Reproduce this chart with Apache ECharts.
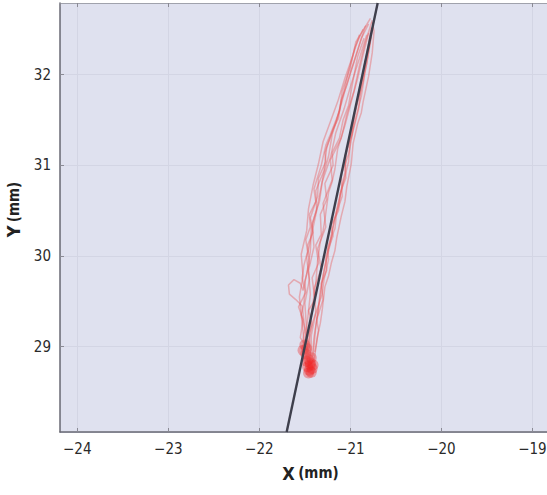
<!DOCTYPE html>
<html>
<head>
<meta charset="utf-8">
<script src="https://cdn.jsdelivr.net/npm/echarts@6/dist/echarts.min.js"></script>
<style>
html,body{margin:0;padding:0;background:#fff;}
#chart{width:547px;height:495px;}
</style>
</head>
<body>
<div id="chart"></div>
<script>
// ---- data (mm) ----
const xRange = [-24.19, -18.84];
const yRange = [28.06, 32.79];
const xTicks = [-24, -23, -22, -21, -20, -19];
const yTicks = [29, 30, 31, 32];
const fitLine = [[-21.70, 28.06], [-20.70, 32.79]];

const traj1 = [[-21.46,28.86],[-21.52,29.08],[-21.50,29.20],[-21.54,29.35],[-21.51,29.48],[-21.50,29.62],[-21.53,29.76],[-21.51,29.9],[-21.47,30.05],[-21.49,30.18],[-21.44,30.32],[-21.45,30.46],[-21.38,30.6],[-21.40,30.74],[-21.32,31.0],[-21.27,31.22],[-21.22,31.34],[-21.17,31.47],[-21.12,31.6],[-21.10,31.72],[-21.04,31.88],[-21.00,32.02],[-20.92,32.27],[-20.84,32.52],[-20.78,32.62]];
const traj2 = [[-21.40,28.84],[-21.36,29.12],[-21.33,29.26],[-21.31,29.40],[-21.28,29.66],[-21.24,29.78],[-21.21,29.92],[-21.17,30.06],[-21.15,30.20],[-21.10,30.44],[-21.06,30.60],[-21.04,30.76],[-20.99,31.02],[-20.97,31.24],[-20.92,31.46],[-20.88,31.58],[-20.86,31.70],[-20.80,31.98],[-20.76,32.24],[-20.74,32.48],[-20.76,32.58]];
const traj3 = [[-21.44,28.90],[-21.45,29.15],[-21.42,29.42],[-21.40,29.56],[-21.38,29.70],[-21.36,29.95],[-21.33,30.16],[-21.30,30.28],[-21.28,30.40],[-21.24,30.70],[-21.20,30.82],[-21.17,30.96],[-21.14,31.18],[-21.06,31.44],[-20.98,31.74],[-20.92,31.96],[-20.86,32.22],[-20.80,32.46]];
const traj4 = [[-21.48,28.82],[-21.50,29.05],[-21.47,29.30],[-21.44,29.58],[-21.46,29.84],[-21.40,30.10],[-21.42,30.36],[-21.34,30.60],[-21.30,30.88],[-21.24,31.10],[-21.20,31.34],[-21.12,31.60],[-21.05,31.86],[-20.96,32.14],[-20.88,32.40],[-20.80,32.56]];
const traj5 = [[-21.45,28.88],[-21.50,29.20],[-21.53,29.45],[-21.60,29.52],[-21.67,29.58],[-21.68,29.68],[-21.62,29.74],[-21.55,29.70],[-21.52,29.62],[-21.48,29.80],[-21.44,30.05],[-21.43,30.30],[-21.36,30.56],[-21.31,30.82],[-21.22,31.08],[-21.16,31.36],[-21.07,31.62],[-20.99,31.90],[-20.90,32.18],[-20.82,32.44]];
const traj6 = [[-21.42,28.86],[-21.40,29.10],[-21.36,29.36],[-21.33,29.62],[-21.28,29.88],[-21.22,30.14],[-21.18,30.38],[-21.12,30.64],[-21.06,30.92],[-21.04,31.16],[-20.98,31.40],[-20.93,31.66],[-20.86,31.92],[-20.82,32.20],[-20.77,32.42]];
const traj7 = [[-21.47,28.92],[-21.48,29.18],[-21.50,29.48],[-21.45,29.74],[-21.48,29.98],[-21.43,30.22],[-21.37,30.50],[-21.38,30.72],[-21.29,30.94],[-21.26,31.20],[-21.15,31.50],[-21.08,31.78],[-21.02,32.04],[-20.95,32.30],[-20.86,32.50]];
const traj8 = [[-21.43,28.84],[-21.43,29.12],[-21.38,29.38],[-21.40,29.64],[-21.32,29.86],[-21.36,30.08],[-21.27,30.32],[-21.30,30.58],[-21.20,30.84],[-21.22,31.06],[-21.10,31.30],[-21.04,31.56],[-20.96,31.82],[-20.90,32.10],[-20.84,32.34],[-20.76,32.60]];
const traj9 = [[-21.41,28.90],[-21.38,29.22],[-21.34,29.50],[-21.30,29.78],[-21.25,30.04],[-21.20,30.28],[-21.14,30.54],[-21.08,30.80],[-21.02,31.04],[-21.00,31.28],[-20.94,31.52],[-20.88,31.76],[-20.84,32.02],[-20.79,32.30],[-20.75,32.54]];
const traj10 = [[-21.49,28.88],[-21.53,29.26],[-21.56,29.55],[-21.52,29.78],[-21.54,30.02],[-21.48,30.28],[-21.46,30.52],[-21.41,30.78],[-21.35,31.02],[-21.30,31.26],[-21.22,31.48],[-21.14,31.70],[-21.06,31.96],[-20.97,32.22],[-20.90,32.44]];
const traj11 = [[-21.46,28.95],[-21.55,29.10],[-21.52,29.30],[-21.57,29.44],[-21.49,29.60],[-21.50,29.72],[-21.45,29.92],[-21.47,30.12],[-21.41,30.26],[-21.44,30.42],[-21.36,30.66],[-21.35,30.86],[-21.27,31.04],[-21.28,31.14],[-21.19,31.40],[-21.13,31.52],[-21.09,31.82],[-21.00,32.08],[-20.94,32.36],[-20.83,32.54]];
const traj12 = [[-21.39,28.94],[-21.35,29.18],[-21.37,29.30],[-21.30,29.52],[-21.32,29.70],[-21.26,29.84],[-21.27,30.00],[-21.19,30.22],[-21.21,30.34],[-21.13,30.50],[-21.11,30.70],[-21.05,30.86],[-21.06,31.10],[-20.98,31.34],[-20.96,31.56],[-20.90,31.80],[-20.85,32.08],[-20.80,32.34],[-20.77,32.52]];
const traj13 = [[-21.47,29.00],[-21.42,29.24],[-21.46,29.40],[-21.39,29.52],[-21.42,29.76],[-21.35,29.92],[-21.38,30.12],[-21.32,30.24],[-21.33,30.46],[-21.26,30.62],[-21.28,30.80],[-21.19,31.00],[-21.20,31.14],[-21.12,31.30],[-21.08,31.50],[-21.02,31.66],[-20.97,31.94],[-20.92,32.20],[-20.85,32.40]];
const traj14 = [[-21.44,28.96],[-21.47,29.10],[-21.41,29.28],[-21.35,29.46],[-21.31,29.58],[-21.29,29.74],[-21.24,29.96],[-21.25,30.10],[-21.17,30.30],[-21.15,30.48],[-21.09,30.66],[-21.10,30.90],[-21.02,31.12],[-20.97,31.38],[-20.91,31.62],[-20.88,31.88],[-20.82,32.12],[-20.78,32.38]];
const blob = [[-21.47,28.78],[-21.44,28.82],[-21.42,28.76],[-21.46,28.86],[-21.49,28.92],[-21.45,28.74],[-21.43,28.88],[-21.48,28.98],[-21.50,29.02],[-21.44,28.80],[-21.46,28.71],[-21.41,28.80],[-21.48,28.84],[-21.52,28.96],[-21.43,28.72]];

const trajectories = [traj1, traj2, traj3, traj4, traj5, traj6, traj7, traj8, traj9, traj10, traj11, traj12, traj13, traj14];

// ---- chart ----
const FONT = "'Liberation Sans Narrow','DejaVu Sans Condensed',sans-serif";
const chart = echarts.init(document.getElementById('chart'), null, {renderer: 'svg'});

function intLabel(v) {
  if (Math.abs(v - Math.round(v)) > 1e-6) return '';
  return String(Math.round(v)).replace('-', '\u2212');
}

const series = [];
trajectories.forEach((t, i) => {
  series.push({
    type: 'line', name: 'traj' + (i + 1), data: t, xAxisIndex: 0, yAxisIndex: 0,
    showSymbol: false, silent: true,
    lineStyle: {color: 'rgba(232,85,85,0.4)', width: 1.5}
  });
});
series.push({
  type: 'scatter', name: 'blob', data: blob, symbolSize: 11,
  itemStyle: {color: 'rgba(240,35,35,0.45)'}, silent: true
});
series.push({
  type: 'line', name: 'fit', data: fitLine, showSymbol: false, silent: true,
  lineStyle: {color: '#3e3f4c', width: 2.4}
});

chart.setOption({
  animation: false,
  backgroundColor: '#ffffff',
  grid: {left: 60, right: 0, top: 3, bottom: 63, containLabel: false, outerBoundsMode: 'none',
         show: true, backgroundColor: '#dfe1ef', borderWidth: 0},
  xAxis: [{
    type: 'value', min: xRange[0], max: xRange[1], position: 'bottom',
    axisLine: {show: true, onZero: false, lineStyle: {color: '#6a6a74', width: 1.5}},
    axisTick: {show: true, inside: true, length: 4, lineStyle: {color: '#8a8a94'}},
    splitLine: {show: true, lineStyle: {color: '#d3d5e4', width: 1}},
    axisLabel: {formatter: intLabel, fontFamily: FONT, fontSize: 15, color: '#2a2a2a', margin: 9, showMinLabel: false, showMaxLabel: false},
    name: '{b|X} {n|(mm)}', nameLocation: 'middle', nameGap: 32,
    nameTextStyle: {rich: {b: {fontFamily: FONT, fontSize: 18, fontWeight: 'bold', color: '#222'}, n: {fontFamily: FONT, fontSize: 15, fontWeight: 'bold', color: '#222'}}, padding: [0, 0, 0, 14]}
  }, {
    type: 'value', min: xRange[0], max: xRange[1], position: 'top',
    axisLine: {show: true, onZero: false, lineStyle: {color: '#a0a2ac', width: 1}},
    axisTick: {show: true, inside: true, length: 4, lineStyle: {color: '#8a8a94'}},
    splitLine: {show: false}, axisLabel: {show: false}
  }],
  yAxis: [{
    type: 'value', min: yRange[0], max: yRange[1],
    axisLine: {show: true, onZero: false, lineStyle: {color: '#6a6a74', width: 1.5}},
    axisTick: {show: true, inside: true, length: 4, lineStyle: {color: '#8a8a94'}},
    splitLine: {show: true, lineStyle: {color: '#d3d5e4', width: 1}},
    axisLabel: {formatter: intLabel, fontFamily: FONT, fontSize: 15, color: '#2a2a2a', margin: 9, showMinLabel: false, showMaxLabel: false},
    name: '{b|Y} {n|(mm)}', nameLocation: 'middle', nameGap: 25,
    nameTextStyle: {rich: {b: {fontFamily: FONT, fontSize: 18, fontWeight: 'bold', color: '#222'}, n: {fontFamily: FONT, fontSize: 15, fontWeight: 'bold', color: '#222'}}, padding: [0, 0, 0, 16]}
  }],
  series: series
});
</script>
</body>
</html>
